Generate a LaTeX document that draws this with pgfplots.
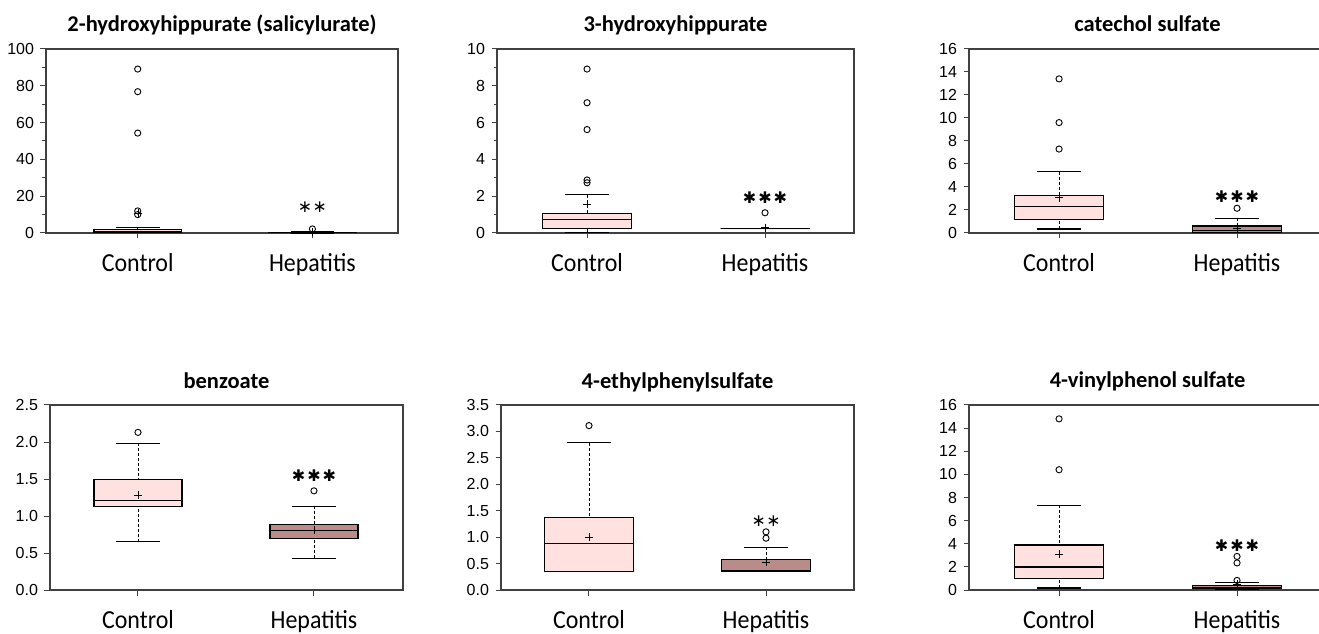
\documentclass[border=0pt]{standalone}
\usepackage{pgfplots}
\pgfplotsset{compat=1.18}
\usepgfplotslibrary{statistics}
\usepackage{fontspec}
\setmainfont{Carlito}
\newfontfamily\arialf{Liberation Sans}
\newfontfamily\dejavu{DejaVu Sans}
\newfontfamily\carlitoN{Carlito}[FakeStretch=0.92]
\definecolor{ctrl}{HTML}{FFE2DF}
\definecolor{hep}{HTML}{B98B89}
\definecolor{frame}{HTML}{404040}
\newcommand\yfont{\fontsize{16}{18}\arialf}
\newcommand\xfont{\fontsize{26}{28}\carlitoN}
\newcommand\tfont{\fontsize{22.5}{25}\selectfont\bfseries}
\newcommand\threestar{{\fontsize{16}{18}\dejavu ✱\kern2pt✱\kern2pt✱}}
\newcommand\twostar{{\fontsize{17}{19}\dejavu ∗\kern0.5pt∗}}
\pgfplotsset{
  panel/.style={
    scale only axis, anchor=south west, clip=false,
    xtick={1,2}, xticklabels={Control,Hepatitis},
    tick pos=left, tick align=outside,
    major tick length=5.5pt, minor tick length=3.5pt,
    axis line style={draw=frame, line width=1.2pt},
    tick style={frame, line width=1pt},
    ymin=0,
    yticklabel style={font=\yfont, xshift=-3pt},
    xticklabel style={font=\xfont, yshift=-11pt},
    /pgf/number format/assume math mode=true,
    title style={font=\tfont, at={(0.5,1)}, anchor=base, yshift=11pt},
  },
  mybox/.style={
    black, mark=o, mark size=3.1pt, mark options={solid, black, line width=0.9pt},
    boxplot/draw direction=y,
    boxplot/box extend=0.5,
    boxplot/whisker extend=0.25,
    boxplot/every box/.style={draw=black, line width=1.1pt, fill=#1},
    boxplot/every median/.style={draw=black, line width=1.1pt},
    boxplot/every average/.style={/tikz/mark=+, /tikz/mark size=4pt, /tikz/mark options={solid, black, line width=1pt}},
    boxplot/draw/lower whisker/.code={
      \draw[black, line width=0.85pt, dash pattern=on 3pt off 2pt]
        (boxplot cs:\pgfplotsboxplotvalue{lower whisker}) -- (boxplot cs:\pgfplotsboxplotvalue{lower quartile});
      \draw[black, line width=1.1pt]
        (boxplot whisker cs:\pgfplotsboxplotvalue{lower whisker},0) -- (boxplot whisker cs:\pgfplotsboxplotvalue{lower whisker},1);
    },
    boxplot/draw/upper whisker/.code={
      \draw[black, line width=0.85pt, dash pattern=on 3pt off 2pt]
        (boxplot cs:\pgfplotsboxplotvalue{upper whisker}) -- (boxplot cs:\pgfplotsboxplotvalue{upper quartile});
      \draw[black, line width=1.1pt]
        (boxplot whisker cs:\pgfplotsboxplotvalue{upper whisker},0) -- (boxplot whisker cs:\pgfplotsboxplotvalue{upper whisker},1);
    },
  },
}
\begin{document}
\begin{tikzpicture}
\path[use as bounding box] (0,0) rectangle (1319pt,634pt);

% Panel 1
\begin{axis}[panel, at={(46pt,401pt)}, width=352pt, height=184pt,
  xmin=0.475, xmax=2.49, ymax=100, ytick={0,20,...,100}, minor y tick num=1,
  title={2-hydroxyhippurate (salicylurate)}]
\addplot[mybox=ctrl, boxplot prepared={draw position=1, lower whisker=0.05, lower quartile=0.3,
  median=0.9, upper quartile=1.8, upper whisker=2.9, average=10.7}]
  table[row sep=\\, y index=0] {v\\ 89.1\\ 76.8\\ 54.3\\ 12.0\\ 10.0\\};
\addplot[mybox=hep, boxplot prepared={draw position=2, lower whisker=0.02, lower quartile=0.1,
  median=0.2, upper quartile=0.4, upper whisker=0.7, average=0.5}]
  table[row sep=\\, y index=0] {v\\ 2.2\\};
\node[inner sep=0pt] at (axis cs:2,14) {\twostar};
\end{axis}

% Panel 2
\begin{axis}[panel, at={(497pt,401pt)}, width=357pt, height=184pt,
  xmin=0.494, xmax=2.5, ymax=10, ytick={0,2,...,10}, minor y tick num=1,
  title={3-hydroxyhippurate}]
\addplot[mybox=ctrl, boxplot prepared={draw position=1, lower whisker=0.05, lower quartile=0.23,
  median=0.71, upper quartile=1.05, upper whisker=2.07, average=1.58}]
  table[row sep=\\, y index=0] {v\\ 8.91\\ 7.08\\ 5.62\\ 2.88\\ 2.73\\};
\addplot[mybox=hep, boxplot prepared={draw position=2, lower whisker=0.23, lower quartile=0.23,
  median=0.23, upper quartile=0.23, upper whisker=0.23, average=0.29}]
  table[row sep=\\, y index=0] {v\\ 1.1\\};
\node[inner sep=0pt] at (axis cs:2,1.9) {\threestar};
\end{axis}

% Panel 3
\begin{axis}[panel, at={(969pt,401pt)}, width=357pt, height=184pt,
  xmin=0.494, xmax=2.5, ymax=16, ytick={0,2,...,16},
  title={catechol sulfate}]
\addplot[mybox=ctrl, boxplot prepared={draw position=1, lower whisker=0.35, lower quartile=1.19,
  median=2.29, upper quartile=3.24, upper whisker=5.33, average=3.07}]
  table[row sep=\\, y index=0] {v\\ 13.4\\ 9.6\\ 7.3\\};
\addplot[mybox=hep, boxplot prepared={draw position=2, lower whisker=0.02, lower quartile=0.08,
  median=0.25, upper quartile=0.61, upper whisker=1.28, average=0.46}]
  table[row sep=\\, y index=0] {v\\ 2.15\\};
\node[inner sep=0pt] at (axis cs:2,3.15) {\threestar};
\end{axis}

% Panel 4
\begin{axis}[panel, at={(50pt,44pt)}, width=353pt, height=185pt,
  xmin=0.5, xmax=2.506, ymax=2.5, ytick={0,0.5,...,2.5},
  yticklabel style={/pgf/number format/.cd, fixed, fixed zerofill, precision=1},
  title={benzoate}]
\addplot[mybox=ctrl, boxplot prepared={draw position=1, lower whisker=0.65, lower quartile=1.13,
  median=1.21, upper quartile=1.49, upper whisker=1.98, average=1.28}]
  table[row sep=\\, y index=0] {v\\ 2.13\\};
\addplot[mybox=hep, boxplot prepared={draw position=2, lower whisker=0.43, lower quartile=0.70,
  median=0.80, upper quartile=0.88, upper whisker=1.13, average=0.81}]
  table[row sep=\\, y index=0] {v\\ 1.34\\};
\node[inner sep=0pt] at (axis cs:2,1.55) {\threestar};
\end{axis}

% Panel 5
\begin{axis}[panel, at={(501pt,44pt)}, width=353pt, height=185pt,
  xmin=0.503, xmax=2.497, ymax=3.5, ytick={0,0.5,...,3.5},
  yticklabel style={/pgf/number format/.cd, fixed, fixed zerofill, precision=1},
  title={4-ethylphenylsulfate}]
\addplot[mybox=ctrl, boxplot prepared={draw position=1, lower whisker=0.35, lower quartile=0.35,
  median=0.875, upper quartile=1.37, upper whisker=2.79, average=1.0}]
  table[row sep=\\, y index=0] {v\\ 3.11\\};
\addplot[mybox=hep, boxplot prepared={draw position=2, lower whisker=0.35, lower quartile=0.35,
  median=0.36, upper quartile=0.57, upper whisker=0.81, average=0.53}]
  table[row sep=\\, y index=0] {v\\ 1.10\\ 0.98\\};
\node[inner sep=0pt] at (axis cs:2,1.31) {\twostar};
\end{axis}

% Panel 6
\begin{axis}[panel, at={(969pt,44pt)}, width=357pt, height=185pt,
  xmin=0.494, xmax=2.5, ymax=16, ytick={0,2,...,16},
  title={4-vinylphenol sulfate}]
\addplot[mybox=ctrl, boxplot prepared={draw position=1, lower whisker=0.17, lower quartile=0.98,
  median=1.99, upper quartile=3.89, upper whisker=7.32, average=3.08}]
  table[row sep=\\, y index=0] {v\\ 14.8\\ 10.4\\};
\addplot[mybox=hep, boxplot prepared={draw position=2, lower whisker=0.03, lower quartile=0.1,
  median=0.22, upper quartile=0.40, upper whisker=0.66, average=0.5}]
  table[row sep=\\, y index=0] {v\\ 2.9\\ 2.34\\ 0.83\\};
\node[inner sep=0pt] at (axis cs:2,3.83) {\threestar};
\end{axis}
\end{tikzpicture}
\end{document}
